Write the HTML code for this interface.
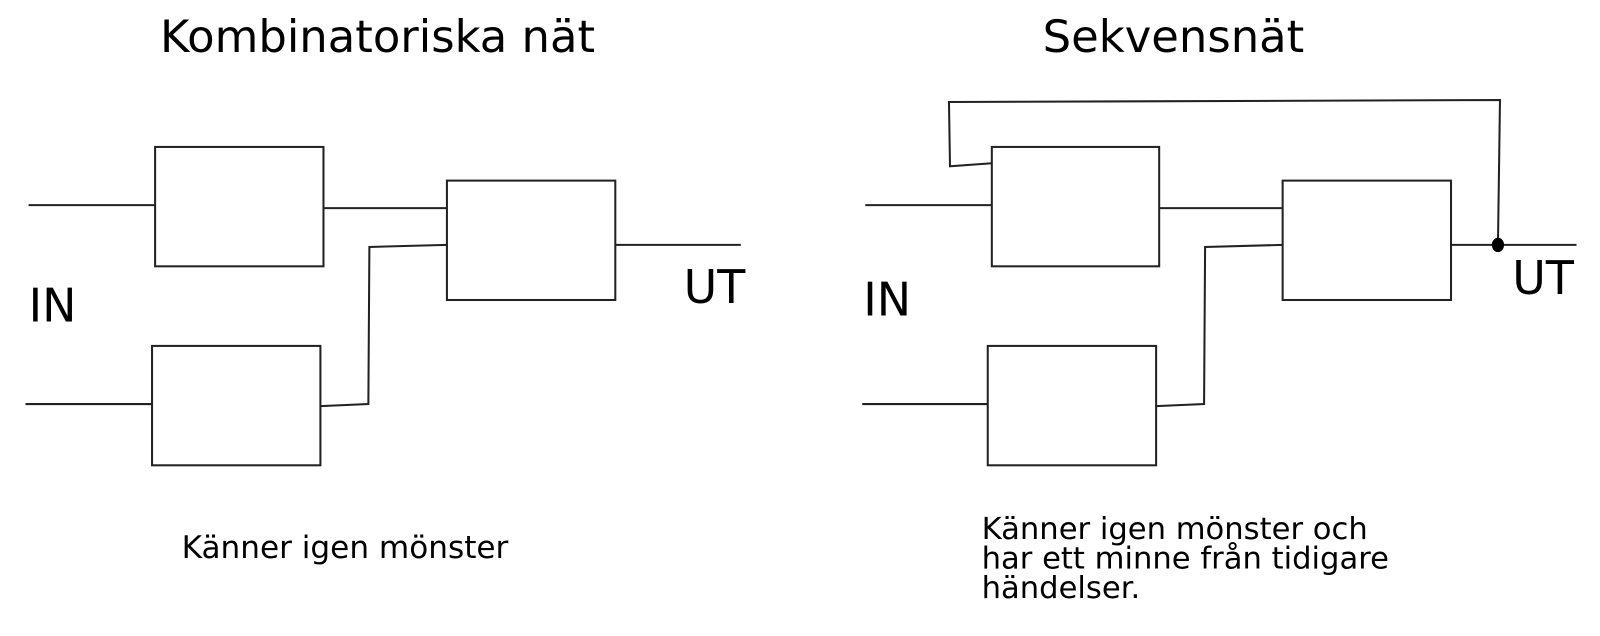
<!DOCTYPE html>
<html><head><meta charset="utf-8"><style>
body{margin:0;background:#fff;width:1600px;height:636px;overflow:hidden}
svg{display:block}
text{font-family:"DejaVu Sans","Liberation Sans",sans-serif;fill:#000}
</style></head><body>
<svg width="1600" height="636" viewBox="0 0 1600 636">
<g transform="scale(1.0204)">
<g fill="none" stroke="#222" stroke-width="2">
<rect x="152" y="144" width="165" height="117"/>
<rect x="149" y="339" width="165" height="117"/>
<rect x="438" y="177" width="165" height="117"/>
<polyline points="28,201 152,201"/>
<polyline points="317,204 438,204"/>
<polyline points="314,398 361,396 362,242 438,240"/>
<polyline points="25,396 149,396"/>
<polyline points="603,240 726,240"/>
<rect x="972" y="144" width="164" height="117"/>
<rect x="968" y="339" width="165" height="117"/>
<rect x="1257" y="177" width="165" height="117"/>
<polyline points="848,201 972,201"/>
<polyline points="1136,204 1257,204"/>
<polyline points="1133,398 1180,396 1181,242 1257,240"/>
<polyline points="845,396 968,396"/>
<polyline points="1422,240 1545,240"/>
<polyline points="1468,240 1470,98 930,100 931,163 972,160"/>
</g>
<ellipse cx="1468" cy="240" rx="6" ry="7" fill="#000"/>
<text x="370" y="51" font-size="44" text-anchor="middle">Kombinatoriska nät</text>
<text x="1150" y="51" font-size="44" text-anchor="middle">Sekvensnät</text>
<text x="28" y="315" font-size="45">IN</text>
<text x="670" y="297" font-size="45">UT</text>
<text x="846" y="309" font-size="45">IN</text>
<text x="1482" y="288" font-size="45">UT</text>
<text x="178" y="547" font-size="30.5">Känner igen mönster</text>
<text x="962" y="528" font-size="30">Känner igen mönster och</text>
<text x="962" y="557" font-size="30">har ett minne från tidigare</text>
<text x="962" y="586" font-size="30">händelser.</text>
</g>
</svg>
</body></html>
